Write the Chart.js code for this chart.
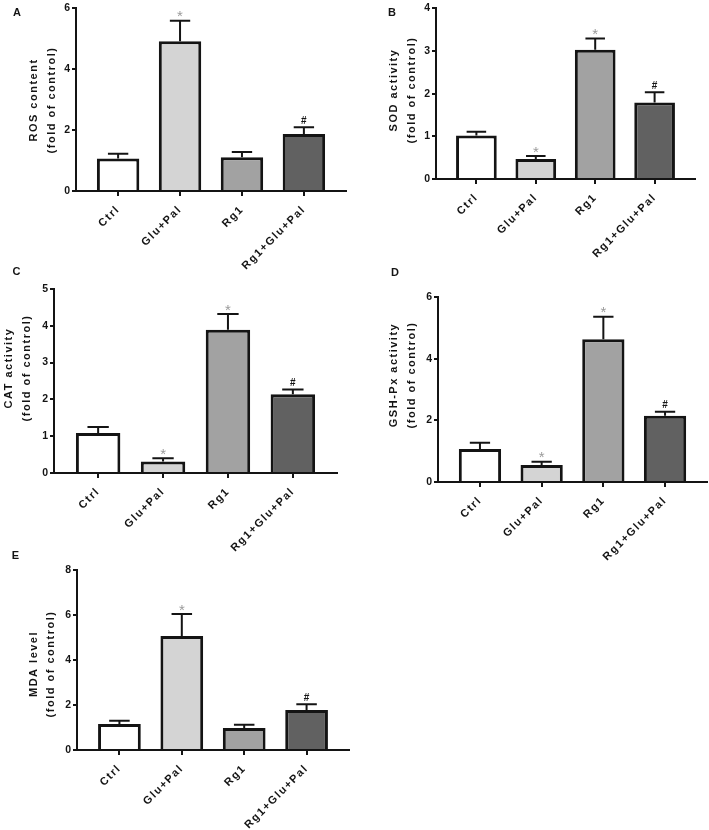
<!DOCTYPE html>
<html>
<head>
<meta charset="utf-8">
<script src="https://cdn.jsdelivr.net/npm/chart.js@4.4.1/dist/chart.umd.min.js"></script>
<style>
  body { margin: 0; background: #fff; }
  #wrap { position: relative; width: 709px; height: 830px; overflow: hidden; }
  .panel { position: absolute; }
  .panel canvas { display: block; }
</style>
</head>
<body>
<div id="wrap"></div>
<script>
// categorias y colores de las barras
const categories = ['Ctrl', 'Glu+Pal', 'Rg1', 'Rg1+Glu+Pal'];
const barColors = ['#ffffff', '#d4d4d4', '#a2a2a2', '#616161'];

// A - ROS
const rosMean = [1.07, 4.92, 1.11, 1.87];
const rosSem = [0.15, 0.67, 0.17, 0.22];
const rosMarks = ['', '*', '', '#'];
const rosTicks = [0, 2, 4, 6];

// B - SOD
const sodMean = [1.02, 0.47, 3.03, 1.79];
const sodSem = [0.09, 0.07, 0.26, 0.24];
const sodMarks = ['', '*', '*', '#'];
const sodTicks = [0, 1, 2, 3, 4];

// C - CAT
const catMean = [1.09, 0.31, 3.89, 2.14];
const catSem = [0.16, 0.09, 0.43, 0.13];
const catMarks = ['', '*', '*', '#'];
const catTicks = [0, 1, 2, 3, 4, 5];

// D - GSH-Px
const gshMean = [1.07, 0.55, 4.63, 2.15];
const gshSem = [0.20, 0.11, 0.73, 0.13];
const gshMarks = ['', '*', '*', '#'];
const gshTicks = [0, 2, 4, 6];

// E - MDA
const mdaMean = [1.16, 5.07, 0.98, 1.78];
const mdaSem = [0.14, 0.97, 0.14, 0.25];
const mdaMarks = ['', '*', '', '#'];
const mdaTicks = [0, 2, 4, 6, 8];

const FONT = "'Liberation Sans', Arial, Helvetica, sans-serif";
const INK = '#141414';
Chart.defaults.font.family = FONT;

// box = [x, y, w, h] del canvas, area = [izq, arriba, der, abajo] del area del grafico (coords de pagina)
const panels = [
  { letter: 'A', letterPos: [17, 13], title: ['ROS content', '(fold of control)'], titleX: [33.5, 52], titleY: 100,
    mean: rosMean, sem: rosSem, marks: rosMarks, ticks: rosTicks, box: [0, 0, 355, 275], area: [76, 6, 346, 191] },
  { letter: 'B', letterPos: [392, 13], title: ['SOD activity', '(fold of control)'], titleX: [393.5, 412], titleY: 90,
    mean: sodMean, sem: sodSem, marks: sodMarks, ticks: sodTicks, box: [360, 0, 349, 275], area: [436, 5, 695, 179] },
  { letter: 'C', letterPos: [16.5, 272], title: ['CAT activity', '(fold of control)'], titleX: [9, 27], titleY: 368,
    mean: catMean, sem: catSem, marks: catMarks, ticks: catTicks, box: [0, 262, 355, 290], area: [54, 289, 337, 473] },
  { letter: 'D', letterPos: [395, 273], title: ['GSH-Px activity', '(fold of control)'], titleX: [394, 411.5], titleY: 375,
    mean: gshMean, sem: gshSem, marks: gshMarks, ticks: gshTicks, box: [360, 262, 349, 300], area: [438, 297, 707, 482] },
  { letter: 'E', letterPos: [15.5, 556], title: ['MDA level', '(fold of control)'], titleX: [33.5, 51], titleY: 664,
    mean: mdaMean, sem: mdaSem, marks: mdaMarks, ticks: mdaTicks, box: [0, 545, 355, 285], area: [77, 570, 349, 750] }
];

// barras de error, asteriscos, letra del panel y titulo del eje y
const decor = {
  id: 'decor',
  beforeDraw(chart) {
    const xs = chart.scales.x;
    if (!xs._spaced) {
      const orig = xs.drawLabels;
      xs.drawLabels = function (area) {
        this.ctx.save();
        this.ctx.letterSpacing = '1.5px';
        orig.call(this, area);
        this.ctx.restore();
      };
      xs._spaced = true;
    }
  },
  afterDatasetsDraw(chart, args, opts) {
    const ctx = chart.ctx;
    const ys = chart.scales.y;
    const meta = chart.getDatasetMeta(0);
    const vals = chart.data.datasets[0].data;
    ctx.save();
    meta.data.forEach((bar, i) => {
      const top = ys.getPixelForValue(vals[i].y + opts.sem[i]);
      const half = bar.width * 0.24;
      ctx.strokeStyle = INK;
      ctx.lineWidth = 2;
      ctx.beginPath();
      ctx.moveTo(bar.x, bar.y);
      ctx.lineTo(bar.x, top);
      ctx.moveTo(bar.x - half, top);
      ctx.lineTo(bar.x + half, top);
      ctx.stroke();
      const m = opts.marks[i];
      if (m === '*') {
        ctx.fillStyle = '#9a9a9a';
        ctx.font = '15px ' + FONT;
        ctx.textAlign = 'center';
        ctx.textBaseline = 'middle';
        ctx.fillText(m, bar.x, top - 3.5);
      } else if (m === '#') {
        ctx.fillStyle = INK;
        ctx.font = 'bold 10px ' + FONT;
        ctx.textAlign = 'center';
        ctx.textBaseline = 'middle';
        ctx.fillText(m, bar.x, top - 6);
      }
    });
    ctx.restore();
  },
  afterDraw(chart, args, opts) {
    const ctx = chart.ctx;
    const ox = opts.box[0], oy = opts.box[1];
    ctx.save();
    ctx.fillStyle = INK;
    ctx.font = 'bold 11px ' + FONT;
    ctx.textAlign = 'center';
    ctx.textBaseline = 'middle';
    ctx.fillText(opts.letter, opts.letterPos[0] - ox, opts.letterPos[1] - oy);
    ctx.letterSpacing = '1.5px';
    opts.title.forEach((line, k) => {
      ctx.save();
      ctx.translate(opts.titleX[k] - ox, opts.titleY - oy);
      ctx.rotate(-Math.PI / 2);
      ctx.fillText(line, 0, 0);
      ctx.restore();
    });
    ctx.restore();
  }
};

const wrap = document.getElementById('wrap');

panels.forEach((p) => {
  const [bx, by, bw, bh] = p.box;
  const [al, at, ar, ab] = p.area;
  const div = document.createElement('div');
  div.className = 'panel';
  div.style.left = bx + 'px';
  div.style.top = by + 'px';
  const cv = document.createElement('canvas');
  cv.width = bw;
  cv.height = bh;
  cv.style.width = bw + 'px';
  cv.style.height = bh + 'px';
  div.appendChild(cv);
  wrap.appendChild(div);

  const yWidth = al - bx;
  const xHeight = by + bh - ab;

  new Chart(cv, {
    type: 'bar',
    data: {
      datasets: [{
        data: p.mean.map((v, i) => ({ x: i, y: v })),
        backgroundColor: barColors,
        borderColor: INK,
        borderWidth: 3,
        borderSkipped: 'start',
        categoryPercentage: 1,
        barPercentage: 0.685
      }]
    },
    options: {
      responsive: false,
      animation: false,
      devicePixelRatio: 1,
      layout: {
        autoPadding: false,
        padding: { left: 0, top: at - by, right: bx + bw - ar, bottom: 0 }
      },
      plugins: {
        legend: { display: false },
        tooltip: { enabled: false },
        decor: { sem: p.sem, marks: p.marks, letter: p.letter, letterPos: p.letterPos,
                 title: p.title, titleX: p.titleX, titleY: p.titleY, box: p.box }
      },
      scales: {
        x: {
          type: 'linear',
          offset: false,
          min: -0.68,
          max: 3.68,
          afterBuildTicks: (s) => { s.ticks = categories.map((c, i) => ({ value: i })); },
          afterFit: (s) => { s.height = xHeight; },
          grid: { offset: false, drawOnChartArea: false, drawTicks: true, tickLength: 5, color: INK, lineWidth: 2 },
          border: { color: INK, width: 2 },
          ticks: {
            autoSkip: false,
            minRotation: 45,
            maxRotation: 45,
            padding: 7,
            color: INK,
            font: { size: 11, weight: 'bold' },
            callback: (v) => categories[v]
          }
        },
        y: {
          min: 0,
          max: p.ticks[p.ticks.length - 1],
          afterBuildTicks: (s) => { s.ticks = p.ticks.map((v) => ({ value: v })); },
          afterFit: (s) => { s.width = yWidth; },
          grid: { drawOnChartArea: false, drawTicks: true, tickLength: 4, color: INK, lineWidth: 2 },
          border: { color: INK, width: 2 },
          ticks: { padding: 2, color: INK, font: { size: 10.5, weight: 'bold' } }
        }
      }
    },
    plugins: [decor]
  });
});
</script>
</body>
</html>
